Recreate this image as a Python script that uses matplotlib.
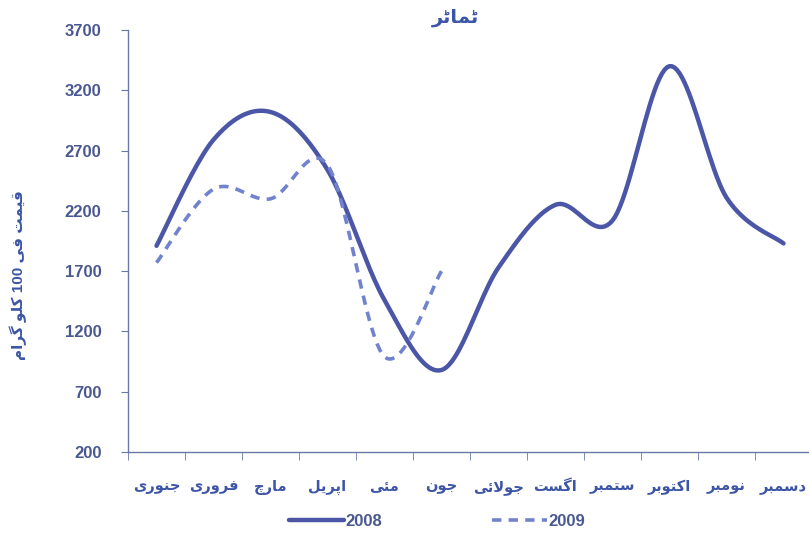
import re
import numpy as np
import matplotlib
matplotlib.use("Agg")
import matplotlib.pyplot as plt

plt.rcParams['font.family'] = ['Liberation Sans', 'DejaVu Sans']

# monthly prices, rupees per 100 kg
months = ['جنوری', 'فروری', 'مارچ', 'اپریل', 'مئی', 'جون',
          'جولائی', 'اگست', 'ستمبر', 'اکتوبر', 'نومبر', 'دسمبر']
price_2008 = [1910, 2790, 3020, 2540, 1460, 880, 1730, 2250, 2120, 3400, 2310, 1930]
price_2009 = [1770, 2380, 2300, 2580, 990, 1700]
y_ticks = [200, 700, 1200, 1700, 2200, 2700, 3200, 3700]

title = 'ٹماٹر'
y_title = 'قیمت فی 100 کلو گرام'

# --- minimal Urdu shaping: contextual forms + right-to-left order ---
FORMS = {  # isolated, final, initial, medial
    'ا': ('\uFE8D', '\uFE8E', None, None),
    'ب': ('\uFE8F', '\uFE90', '\uFE91', '\uFE92'),
    'ت': ('\uFE95', '\uFE96', '\uFE97', '\uFE98'),
    'ج': ('\uFE9D', '\uFE9E', '\uFE9F', '\uFEA0'),
    'د': ('\uFEA9', '\uFEAA', None, None),
    'ر': ('\uFEAD', '\uFEAE', None, None),
    'س': ('\uFEB1', '\uFEB2', '\uFEB3', '\uFEB4'),
    'ف': ('\uFED1', '\uFED2', '\uFED3', '\uFED4'),
    'ق': ('\uFED5', '\uFED6', '\uFED7', '\uFED8'),
    'ل': ('\uFEDD', '\uFEDE', '\uFEDF', '\uFEE0'),
    'م': ('\uFEE1', '\uFEE2', '\uFEE3', '\uFEE4'),
    'ن': ('\uFEE5', '\uFEE6', '\uFEE7', '\uFEE8'),
    'و': ('\uFEED', '\uFEEE', None, None),
    'ئ': ('\uFE89', '\uFE8A', '\uFE8B', '\uFE8C'),
    'ٹ': ('\uFB66', '\uFB67', '\uFB68', '\uFB69'),
    'پ': ('\uFB56', '\uFB57', '\uFB58', '\uFB59'),
    'چ': ('\uFB7A', '\uFB7B', '\uFB7C', '\uFB7D'),
    'ک': ('\uFB8E', '\uFB8F', '\uFB90', '\uFB91'),
    'گ': ('\uFB92', '\uFB93', '\uFB94', '\uFB95'),
    'ی': ('\uFBFC', '\uFBFD', '\uFBFE', '\uFBFF'),
}


def joins_left(ch):
    return ch in FORMS and FORMS[ch][2] is not None


def shape(text):
    out = []
    i = 0
    n = len(text)
    while i < n:
        ch = text[i]
        if ch not in FORMS:
            out.append(ch)
            i += 1
            continue
        prev_join = i > 0 and joins_left(text[i - 1])
        if ch == 'ل' and i + 1 < n and text[i + 1] == 'ا':
            out.append('\uFEFC' if prev_join else '\uFEFB')
            i += 2
            continue
        next_join = joins_left(ch) and i + 1 < n and text[i + 1] in FORMS
        iso, fin, ini, med = FORMS[ch]
        if prev_join and next_join:
            out.append(med)
        elif prev_join:
            out.append(fin)
        elif next_join:
            out.append(ini)
        else:
            out.append(iso)
        i += 1
    vis = ''.join(out)[::-1]
    return re.sub(r'[0-9]+', lambda m: m.group(0)[::-1], vis)


def smooth(y, steps=24):
    # bezier smoothing through every point, like spreadsheet "smoothed line"
    x = np.arange(len(y), dtype=float)
    y = np.asarray(y, dtype=float)
    pts = np.column_stack([x, y])
    xs, ys = [], []
    for k in range(len(pts) - 1):
        p0 = pts[k - 1] if k > 0 else pts[k]
        p1, p2 = pts[k], pts[k + 1]
        p3 = pts[k + 2] if k + 2 < len(pts) else pts[k + 1]
        c1 = p1 + (p2 - p0) / 6.0
        c2 = p2 - (p3 - p1) / 6.0
        t = np.linspace(0, 1, steps)[:, None]
        seg = ((1 - t) ** 3 * p1 + 3 * (1 - t) ** 2 * t * c1
               + 3 * (1 - t) * t ** 2 * c2 + t ** 3 * p2)
        xs.extend(seg[:, 0])
        ys.extend(seg[:, 1])
    return np.array(xs), np.array(ys)


line_col = '#4b57a6'
dash_col = '#7183cc'
text_col = '#3d55a6'
axis_col = '#6a78a8'

fig = plt.figure(figsize=(8.09, 5.39), dpi=100)
ax = fig.add_axes([128 / 809, 87 / 539, 684 / 809, 422 / 539])

x8, y8 = smooth(price_2008)
x9, y9 = smooth(price_2009)
ax.plot(x8, y8, color=line_col, lw=3.2, solid_capstyle='round', label='2008')
ax.plot(x9, y9, color=dash_col, lw=2.6, dashes=(2.6, 2), label='2009')

ax.set_xlim(-0.5, len(months) - 0.5)
ax.set_ylim(200, 3700)
ax.set_yticks(y_ticks)
ax.set_yticklabels([str(v) for v in y_ticks], fontsize=12, fontweight='bold',
                   color='#4a5890')
ax.set_xticks(range(len(months)))
ax.set_xticklabels([shape(m) for m in months], fontsize=10.5, fontweight='bold',
                   color=text_col)
ax.set_xticks(np.arange(-0.5, len(months)), minor=True)
ax.tick_params(axis='x', which='major', length=0, pad=20)
ax.tick_params(axis='x', which='minor', length=6, color=axis_col)
ax.tick_params(axis='y', length=5, color=axis_col, pad=14)

for side in ('top', 'right'):
    ax.spines[side].set_visible(False)
for side in ('left', 'bottom'):
    ax.spines[side].set_color(axis_col)
    ax.spines[side].set_linewidth(1.0)

fig.text(455 / 809, 1 - 18 / 539, shape(title), ha='center', va='center',
         fontsize=14, fontweight='bold', color=text_col)
fig.text(18 / 809, 1 - 275 / 539, shape(y_title), ha='center', va='center',
         rotation=90, fontsize=11, fontweight='bold', color=text_col)

leg = fig.legend(ncol=2, loc='center', bbox_to_anchor=(437 / 809, 1 - 521 / 539),
                 frameon=False, handlelength=3.3, handletextpad=0.1,
                 columnspacing=6.6, prop={'size': 12, 'weight': 'bold'})
for t in leg.get_texts():
    t.set_color('#4a5890')

fig.savefig('out.png', dpi=100, facecolor='white')
